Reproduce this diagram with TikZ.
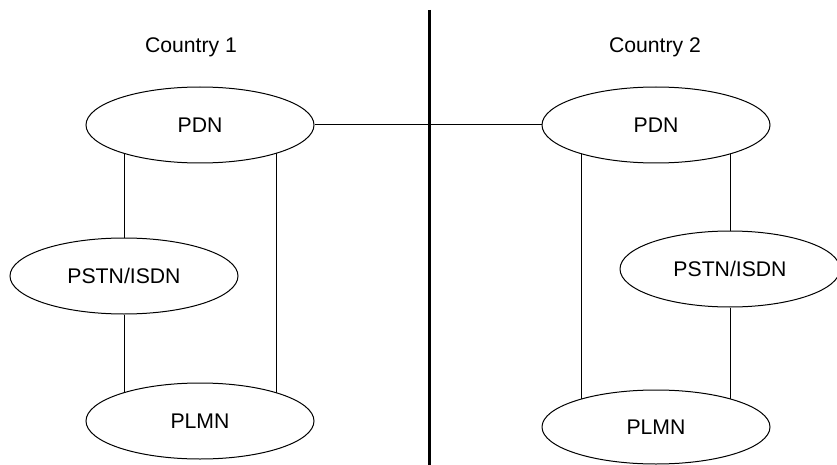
\documentclass[tikz,border=0pt]{standalone}
\usepackage{fontspec}
\setmainfont{Liberation Sans}
\usetikzlibrary{positioning, shapes.geometric, backgrounds}
\tikzset{
	net/.style={
		ellipse,
		draw,
		fill=white,
		line width=1pt,
		inner sep=0pt,
		minimum width=228,
		minimum height=76,
		font=\fontsize{21.2}{25}\selectfont,
	},
	label/.style={
		font=\fontsize{21.2}{25}\selectfont,
	},
	link/.style={
		draw,
		line width=1pt,
	},
}

\begin{document}
\begin{tikzpicture}[x=1pt, y=-1pt]
		\useasboundingbox (0,0) rectangle (837,465);
		
		% Country 1
		\node [label] (c1) at (191,47) {Country 1};
		\node [net] (pdnA) at (200,125) {PDN};
		\node [net] (pstnA) at (124,276) {PSTN/ISDN};
		\node [net] (plmnA) at (200,421) {PLMN};
		
		% Country 2
		\node [label] (c2) at (655,47) {Country 2};
		\node [net] (pdnB) at (656,125) {PDN};
		\node [net, minimum width=220] (pstnB) at (730,269) {PSTN/ISDN};
		\node [net, minimum height=74] (plmnB) at (656,427) {PLMN};
		
		% border
		\coordinate (top) at (429,10);
		\coordinate (bot) at (429,465);
		\draw [line width=3pt] (top) -- (bot);
		
		\draw [link] (pdnA) -- (pdnB);
		
		\begin{pgfonlayer}{background}
		\draw [link] (pstnA) -- (pstnA |- pdnA);
		\draw [link] (pstnA) -- (pstnA |- plmnA);
		\draw [link] ([xshift=76]pdnA.center) -- ([xshift=76]plmnA.center);
		
		\draw [link] ([xshift=-75]pdnB.center) -- ([xshift=-75]plmnB.center);
		\draw [link] (pstnB) -- (pstnB |- pdnB);
		\draw [link] (pstnB) -- (pstnB |- plmnB);
		\end{pgfonlayer}

	\end{tikzpicture}
\end{document}
